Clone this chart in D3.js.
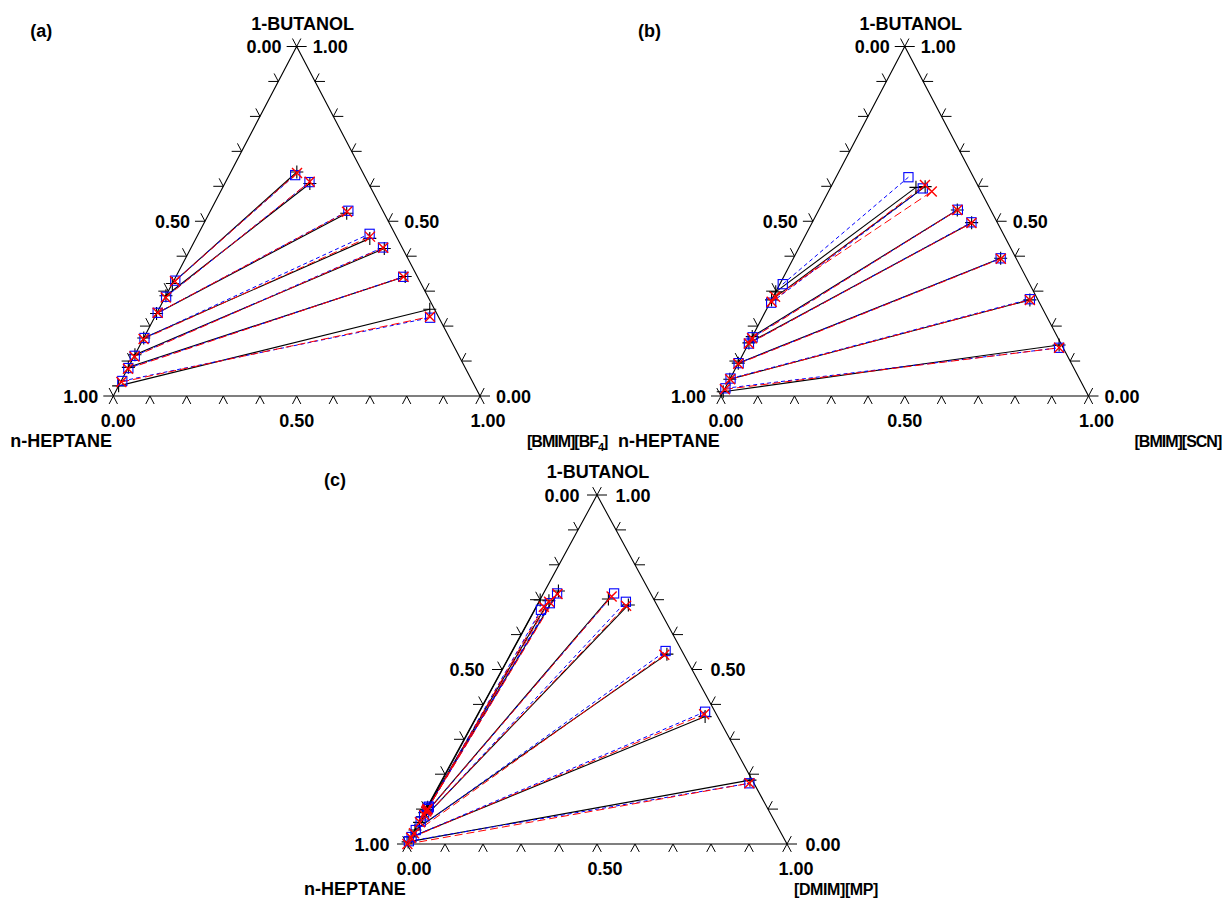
<!DOCTYPE html>
<html><head><meta charset="utf-8">
<script src="https://cdn.jsdelivr.net/npm/d3@7"></script>
<style>
body{margin:0;background:#fff}
svg{display:block}
text{font-family:"Liberation Sans",Arial,sans-serif;font-weight:bold;font-size:18px;fill:#000}
</style>
</head><body>
<svg id="chart" width="1222" height="905"></svg>
<script>
// ---------- DATA ----------
const tickValues = [0,0.1,0.2,0.3,0.4,0.5,0.6,0.7,0.8,0.9,1.0];
const labelValues = [0, 0.5, 1];
const panelLetters = ["(a)", "(b)", "(c)"];
const topComponent = "1-BUTANOL";
const leftComponent = "n-HEPTANE";
const ilNames = [["[BMIM][BF", "4", "]"], ["[BMIM][SCN]", "", ""], ["[DMIM][MP]", "", ""]];

// Tie lines: [x_IL raffinate, x_BuOH raffinate, x_IL extract, x_BuOH extract]
const expA = [
  [0.000,0.322, 0.180,0.641],
  [0.000,0.287, 0.232,0.608],
  [0.000,0.236, 0.375,0.523],
  [0.000,0.166, 0.474,0.451],
  [0.000,0.118, 0.528,0.422],
  [0.000,0.082, 0.625,0.342],
  [0.000,0.029, 0.739,0.248]
];
const nrtlA = [
  [0.004,0.330, 0.180,0.632],
  [0.002,0.284, 0.229,0.612],
  [0.002,0.238, 0.376,0.530],
  [0.002,0.166, 0.467,0.464],
  [0.001,0.115, 0.523,0.425],
  [0.001,0.080, 0.620,0.341],
  [0.003,0.043, 0.752,0.224]
];
const uniqA = [
  [0.004,0.328, 0.182,0.638],
  [0.002,0.282, 0.229,0.613],
  [0.002,0.238, 0.374,0.527],
  [0.001,0.163, 0.472,0.456],
  [0.001,0.113, 0.524,0.424],
  [0.001,0.078, 0.621,0.341],
  [0.002,0.040, 0.750,0.227]
];
const expB = [
  [0.000,0.298, 0.232,0.597],
  [0.000,0.275, 0.256,0.599],
  [0.000,0.170, 0.377,0.532],
  [0.000,0.152, 0.434,0.496],
  [0.000,0.094, 0.564,0.394],
  [0.000,0.048, 0.703,0.275],
  [0.000,0.012, 0.847,0.146]
];
const nrtlB = [
  [0.008,0.320, 0.197,0.626],
  [0.003,0.267, 0.252,0.594],
  [0.002,0.168, 0.378,0.533],
  [0.001,0.150, 0.433,0.497],
  [0.001,0.094, 0.564,0.394],
  [0.001,0.050, 0.702,0.277],
  [0.001,0.022, 0.851,0.138]
];
const uniqB = [
  [0.005,0.284, 0.281,0.585],
  [0.003,0.270, 0.253,0.604],
  [0.002,0.165, 0.377,0.532],
  [0.001,0.150, 0.434,0.495],
  [0.001,0.092, 0.565,0.393],
  [0.001,0.048, 0.703,0.275],
  [0.001,0.019, 0.851,0.138]
];
const expC = [
  [0.002,0.090, 0.001,0.699],
  [0.002,0.098, 0.025,0.697],
  [0.002,0.105, 0.036,0.725],
  [0.002,0.078, 0.179,0.702],
  [0.002,0.062, 0.240,0.685],
  [0.001,0.040, 0.412,0.544],
  [0.001,0.020, 0.602,0.365],
  [0.000,0.006, 0.811,0.183]
];
const nrtlC = [
  [0.004,0.107, 0.017,0.671],
  [0.004,0.100, 0.031,0.690],
  [0.004,0.104, 0.036,0.718],
  [0.004,0.082, 0.186,0.718],
  [0.004,0.064, 0.229,0.694],
  [0.003,0.040, 0.404,0.553],
  [0.002,0.020, 0.595,0.379],
  [0.001,0.008, 0.814,0.174]
];
const uniqC = [
  [0.004,0.097, 0.020,0.680],
  [0.004,0.093, 0.027,0.694],
  [0.004,0.100, 0.038,0.716],
  [0.004,0.083, 0.184,0.709],
  [0.003,0.062, 0.235,0.683],
  [0.003,0.031, 0.406,0.542],
  [0.002,0.018, 0.596,0.372],
  [0.001,0.000, 0.814,0.174]
];

// ---------- LAYOUT ----------
const panels = [
  {L:113.3, W:366.7, B:396, H:349.5, exp:expA, nrtl:nrtlA, uniq:uniqA, il:ilNames[0], letter:panelLetters[0],
   titleDx:6, sideOff:15, botDx:[5,0,8], ilDx:47, ilLs:-1},
  {L:721, W:367.5, B:396, H:349.5, exp:expB, nrtl:nrtlB, uniq:uniqB, il:ilNames[1], letter:panelLetters[1],
   titleDx:6, sideOff:15, botDx:[5,0,8], ilDx:46, ilLs:-1},
  {L:407, W:380, B:844, H:349, exp:expC, nrtl:nrtlC, uniq:uniqC, il:ilNames[2], letter:panelLetters[2],
   titleDx:1, sideOff:17.5, botDx:[7,8,9], ilDx:7, ilLs:-0.4}
];

const svg = d3.select("#chart");
const fmt = d3.format(".2f");

function crossPath(x, y, r){ return `M${x-r},${y}L${x+r},${y}M${x},${y-r}L${x},${y+r}`; }
function timesPath(x, y, r){ return `M${x-r},${y-r}L${x+r},${y+r}M${x-r},${y+r}L${x+r},${y-r}`; }

panels.forEach(p => {
  const g = svg.append("g");
  const xs = d3.scaleLinear().domain([0,1]).range([p.L, p.L + p.W]);
  const ys = d3.scaleLinear().domain([0,1]).range([p.B, p.B - p.H]);
  const P = (il, bu) => [xs(il + bu/2), ys(bu)];

  const vTop = P(0,1), vLeft = P(0,0), vRight = P(1,0);
  g.append("path")
    .attr("d", d3.line()([vLeft, vRight, vTop, vLeft]))
    .attr("fill","none").attr("stroke","#000").attr("stroke-width",1.1);

  const norm = (v) => { const l = Math.hypot(v[0], v[1]); return [v[0]/l, v[1]/l]; };
  const dLeftSide = norm([vLeft[0]-vTop[0], vLeft[1]-vTop[1]]);
  const dRightSide = norm([vRight[0]-vTop[0], vRight[1]-vTop[1]]);
  const hl = 10, sl = 9;
  let tp = "";
  tickValues.forEach(t => {
    let q = P(t, 0);
    tp += `M${q[0]+dLeftSide[0]*sl},${q[1]+dLeftSide[1]*sl}L${q[0]},${q[1]}L${q[0]+dRightSide[0]*sl},${q[1]+dRightSide[1]*sl}`;
    q = P(0, t);
    tp += `M${q[0]-hl},${q[1]}L${q[0]},${q[1]}L${q[0]-dRightSide[0]*sl},${q[1]-dRightSide[1]*sl}`;
    q = P(1-t, t);
    tp += `M${q[0]+hl},${q[1]}L${q[0]},${q[1]}L${q[0]-dLeftSide[0]*sl},${q[1]-dLeftSide[1]*sl}`;
  });
  g.append("path").attr("d", tp).attr("fill","none").attr("stroke","#000").attr("stroke-width",1);

  const off = p.sideOff;
  g.append("text").attr("x", vTop[0] + p.titleDx).attr("y", vTop[1] - 17).attr("text-anchor","middle").text(topComponent);
  g.append("text").attr("x", p.L - 83).attr("y", vTop[1] - 9.5).text(p.letter);
  labelValues.forEach(v => {
    const ql = P(0, v);
    g.append("text").attr("x", ql[0] - off).attr("y", ql[1] + 6.5).attr("text-anchor","end").text(fmt(1 - v));
    const qr = P(1 - v, v);
    g.append("text").attr("x", qr[0] + off + 1).attr("y", qr[1] + 6.5).attr("text-anchor","start").text(fmt(v));
  });
  labelValues.forEach((v, k) => {
    const qb = P(v, 0);
    g.append("text").attr("x", qb[0] + p.botDx[k]).attr("y", p.B + 31).attr("text-anchor","middle").text(fmt(v));
  });
  g.append("text").attr("x", p.L - 103).attr("y", p.B + 51).text(leftComponent);
  const ilt = g.append("text").attr("x", p.L + p.W + p.ilDx).attr("y", p.B + 51)
    .style("font-size", "16px").style("letter-spacing", p.ilLs + "px");
  ilt.append("tspan").text(p.il[0]);
  if (p.il[1]) {
    ilt.append("tspan").attr("dy", 4).style("font-size", "11px").text(p.il[1]);
    ilt.append("tspan").attr("dy", -4).text(p.il[2]);
  }

  const seg = d => d3.line()([P(d[0], d[1]), P(d[2], d[3])]);
  g.append("g").selectAll("path").data(p.exp).join("path")
    .attr("d", seg).attr("stroke","#000").attr("stroke-width",1.1).attr("fill","none");
  g.append("g").selectAll("path").data(p.nrtl).join("path")
    .attr("d", seg).attr("stroke","#0000ff").attr("stroke-width",1).attr("stroke-dasharray","4,3").attr("fill","none");
  g.append("g").selectAll("path").data(p.uniq).join("path")
    .attr("d", seg).attr("stroke","#ff0000").attr("stroke-width",1).attr("stroke-dasharray","8,4").attr("fill","none");

  const ends = arr => arr.flatMap(d => [P(d[0], d[1]), P(d[2], d[3])]);
  g.append("g").selectAll("path").data(ends(p.exp)).join("path")
    .attr("d", q => crossPath(q[0], q[1], 6.5)).attr("stroke","#000").attr("stroke-width",1.1).attr("fill","none");
  g.append("g").selectAll("rect").data(ends(p.nrtl)).join("rect")
    .attr("x", q => q[0]-4.6).attr("y", q => q[1]-4.6).attr("width",9.2).attr("height",9.2)
    .attr("stroke","#0000ff").attr("stroke-width",1.1).attr("fill","none");
  g.append("g").selectAll("path").data(ends(p.uniq)).join("path")
    .attr("d", q => timesPath(q[0], q[1], 5)).attr("stroke","#ff0000").attr("stroke-width",1.4).attr("fill","none");
});
</script>
</body></html>
